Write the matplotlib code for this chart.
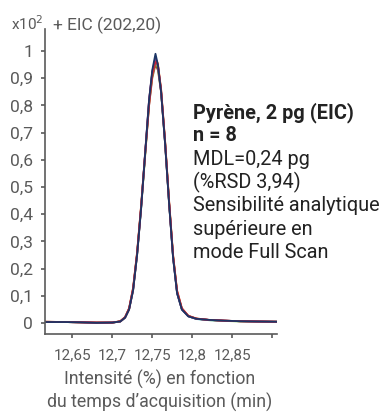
import matplotlib
matplotlib.use("Agg")
import matplotlib.pyplot as plt
from matplotlib.ticker import FuncFormatter

temps = [12.616, 12.64, 12.66, 12.68, 12.70, 12.71, 12.716, 12.721, 12.726, 12.731,
         12.736, 12.741, 12.746, 12.750, 12.754, 12.757, 12.761, 12.766, 12.771, 12.776,
         12.781, 12.787, 12.795, 12.805, 12.82, 12.84, 12.86, 12.88, 12.906]

# intensités (x10^2) des 8 injections répétées
rep_brun = [0.005, 0.004, 0.003, 0.002, 0.002, 0.006, 0.021, 0.052, 0.125, 0.255,
            0.425, 0.615, 0.80, 0.90, 0.95, 0.93, 0.85, 0.66, 0.44, 0.245,
            0.115, 0.052, 0.026, 0.016, 0.012, 0.009, 0.007, 0.006, 0.005]
rep_vert = [0.004, 0.004, 0.003, 0.002, 0.002, 0.006, 0.02, 0.05, 0.12, 0.25,
            0.42, 0.61, 0.81, 0.91, 0.96, 0.94, 0.85, 0.665, 0.445, 0.245,
            0.112, 0.051, 0.026, 0.016, 0.011, 0.008, 0.006, 0.006, 0.005]
rep_cyan = [0.004, 0.004, 0.003, 0.002, 0.002, 0.006, 0.021, 0.051, 0.122, 0.252,
            0.422, 0.62, 0.815, 0.92, 0.965, 0.945, 0.855, 0.665, 0.442, 0.242,
            0.11, 0.05, 0.025, 0.015, 0.011, 0.008, 0.007, 0.006, 0.005]
rep_orange = [0.005, 0.004, 0.003, 0.002, 0.002, 0.007, 0.022, 0.054, 0.128, 0.258,
              0.43, 0.62, 0.81, 0.915, 0.97, 0.955, 0.86, 0.67, 0.45, 0.25,
              0.118, 0.054, 0.027, 0.017, 0.012, 0.009, 0.007, 0.006, 0.005]
rep_magenta = [0.004, 0.004, 0.003, 0.002, 0.002, 0.006, 0.02, 0.05, 0.12, 0.25,
               0.42, 0.62, 0.82, 0.925, 0.975, 0.95, 0.855, 0.665, 0.445, 0.245,
               0.112, 0.052, 0.026, 0.016, 0.012, 0.009, 0.007, 0.006, 0.005]
rep_violet = [0.004, 0.004, 0.003, 0.001, 0.002, 0.006, 0.021, 0.052, 0.124, 0.254,
              0.425, 0.625, 0.82, 0.92, 0.97, 0.945, 0.85, 0.66, 0.44, 0.24,
              0.11, 0.05, 0.025, 0.016, 0.012, 0.009, 0.007, 0.006, 0.005]
rep_rouge = [0.005, 0.004, 0.003, 0.002, 0.002, 0.007, 0.022, 0.055, 0.13, 0.26,
             0.43, 0.62, 0.80, 0.91, 0.96, 0.95, 0.86, 0.67, 0.45, 0.25,
             0.12, 0.055, 0.027, 0.017, 0.012, 0.009, 0.007, 0.006, 0.005]
rep_marine = [0.004, 0.004, 0.003, 0.001, 0.002, 0.006, 0.02, 0.05, 0.12, 0.25,
              0.42, 0.62, 0.82, 0.93, 0.99, 0.95, 0.85, 0.66, 0.44, 0.24,
              0.11, 0.05, 0.025, 0.016, 0.012, 0.009, 0.007, 0.006, 0.005]

replicats = [rep_brun, rep_vert, rep_cyan, rep_orange, rep_magenta, rep_violet, rep_rouge, rep_marine]
couleurs = ['#8b5a2b', '#8dc63f', '#2aa6c8', '#e8902a', '#d0307a', '#7b3f8c', '#c8283c', '#1c3565']

xticks = [12.65, 12.7, 12.75, 12.8, 12.85, 12.9]
yticks = [0, 0.1, 0.2, 0.3, 0.4, 0.5, 0.6, 0.7, 0.8, 0.9, 1.0]

gris = '#5a5a5a'
plt.rcParams['font.family'] = ['Roboto', 'DejaVu Sans']

fig = plt.figure(figsize=(3.86, 4.13), dpi=100)
ax = fig.add_axes([45 / 386, 79 / 413, 232 / 386, 305 / 413])

for serie, c in zip(replicats, couleurs):
    ax.plot(temps, serie, color=c, lw=1.3)

ax.set_xlim(12.6159, 12.9059)
ax.set_ylim(-0.04, 1.081)

ax.set_xticks(xticks)
ax.set_yticks(yticks)

def fmt_x(v, pos):
    if abs(v - 12.9) < 1e-6:
        return ''
    return ('%g' % round(v, 2)).replace('.', ',')

def fmt_y(v, pos):
    return ('%g' % round(v, 2)).replace('.', ',')

ax.xaxis.set_major_formatter(FuncFormatter(fmt_x))
ax.yaxis.set_major_formatter(FuncFormatter(fmt_y))

for s in ['top', 'right']:
    ax.spines[s].set_visible(False)
for s in ['left', 'bottom']:
    ax.spines[s].set_color(gris)
    ax.spines[s].set_linewidth(1.2)

ax.tick_params(axis='both', colors=gris, length=3, width=1.2)
ax.tick_params(axis='x', pad=7, labelsize=11)
ax.tick_params(axis='y', pad=5.5, labelsize=12.5)

fig.text(11 / 386, 1 - 30 / 413, 'x10$^{2}$', color=gris, fontsize=11, va='baseline', ha='left')
fig.text(53 / 386, 1 - 30 / 413, '+ EIC (202,20)', color=gris, fontsize=12.5, va='baseline', ha='left')

fig.text(160 / 386, 1 - 385 / 413, 'Intensité (%) en fonction',
         color=gris, fontsize=12.8, ha='center', va='baseline')
fig.text(160 / 386, 1 - 408 / 413, 'du temps d\u2019acquisition (min)',
         color=gris, fontsize=12.8, ha='center', va='baseline')

lignes = [('Pyrène, 2 pg (EIC)', 'bold'), ('n = 8', 'bold'), ('MDL=0,24 pg', 'normal'),
          ('(%RSD 3,94)', 'normal'), ('Sensibilité analytique', 'normal'),
          ('supérieure en', 'normal'), ('mode Full Scan', 'normal')]
for i, (txt, poids) in enumerate(lignes):
    fig.text(193 / 386, 1 - (118 + i * 23.3) / 413, txt, color='#222222', fontsize=14.3,
             fontweight=poids, ha='left', va='baseline')

fig.savefig('out.png', dpi=100)
